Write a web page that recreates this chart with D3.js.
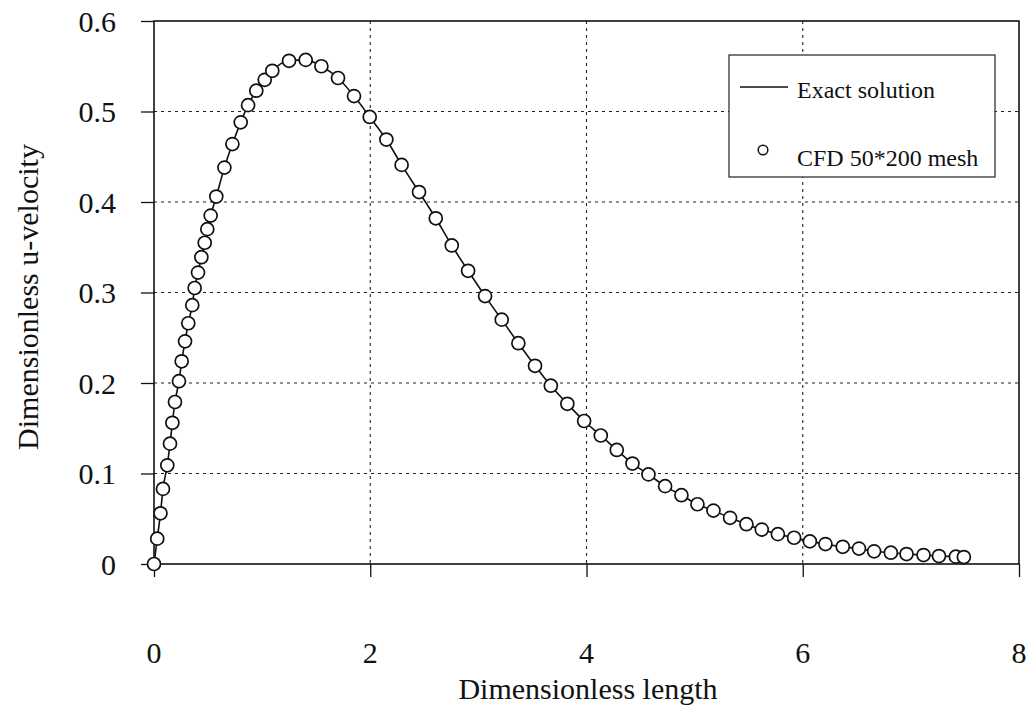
<!DOCTYPE html>
<html>
<head>
<meta charset="utf-8">
<script src="https://cdn.jsdelivr.net/npm/d3@7"></script>
<style>
  html, body { margin: 0; padding: 0; background: #fff; }
  svg { display: block; }
  text { font-family: "Liberation Serif", "DejaVu Serif", serif; fill: #111; }
</style>
</head>
<body>
<svg id="chart" width="1031" height="708"></svg>
<script>
// ---- data ----
const lengthValues = [0,0.03,0.06,0.083,0.123,0.148,0.17,0.194,0.231,0.256,0.287,0.317,0.354,0.376,0.407,0.438,0.469,0.493,0.524,0.576,0.651,0.725,0.802,0.87,0.946,1.024,1.094,1.249,1.403,1.548,1.702,1.85,1.995,2.149,2.29,2.451,2.606,2.754,2.905,3.062,3.216,3.37,3.524,3.67,3.823,3.978,4.132,4.28,4.425,4.573,4.727,4.878,5.026,5.174,5.328,5.479,5.621,5.77,5.92,6.066,6.21,6.37,6.52,6.66,6.815,6.96,7.117,7.26,7.416,7.49];
const velocityValues = [0,0.028,0.056,0.083,0.109,0.133,0.156,0.179,0.202,0.224,0.246,0.266,0.286,0.305,0.322,0.339,0.355,0.370,0.385,0.406,0.438,0.464,0.488,0.507,0.523,0.535,0.545,0.556,0.557,0.550,0.537,0.517,0.494,0.469,0.441,0.411,0.382,0.352,0.324,0.296,0.270,0.244,0.219,0.197,0.177,0.158,0.142,0.126,0.111,0.099,0.086,0.076,0.066,0.059,0.051,0.044,0.038,0.033,0.029,0.025,0.022,0.019,0.017,0.014,0.0125,0.011,0.0099,0.0088,0.0081,0.0077];
const xTicks = [0, 2, 4, 6, 8];
const yTicks = [0, 0.1, 0.2, 0.3, 0.4, 0.5, 0.6];
const xTickLabels = ["0", "2", "4", "6", "8"];
const yTickLabels = ["0", "0.1", "0.2", "0.3", "0.4", "0.5", "0.6"];
const seriesNames = ["Exact solution", "CFD 50*200 mesh"];
const xTitle = "Dimensionless length";
const yTitle = "Dimensionless u-velocity";

(function () {
  // ---- layout ----
  const svg = d3.select("#chart");
  const pL = 154, pR = 1019, pT = 21, pB = 564;
  const x = d3.scaleLinear().domain([0, 8]).range([pL, pR]);
  const y = d3.scaleLinear().domain([0, 0.6]).range([pB, pT]);

  svg.append("rect").attr("width", 1031).attr("height", 708).attr("fill", "#fff");

  // gridlines
  const grid = svg.append("g").attr("stroke", "#222").attr("stroke-width", 1.1).attr("stroke-dasharray", "3,4");
  grid.selectAll(".hg").data(yTicks.filter(v => v > 0 && v < 0.6)).join("line").attr("class", "hg")
    .attr("x1", pL).attr("x2", pR).attr("y1", d => y(d)).attr("y2", d => y(d));
  grid.selectAll(".vg").data(xTicks.filter(v => v > 0 && v < 8)).join("line").attr("class", "vg")
    .attr("y1", pT).attr("y2", pB).attr("x1", d => x(d)).attr("x2", d => x(d));

  // axes with outward ticks
  const xAxis = d3.axisBottom(x).tickValues(xTicks).tickSize(13).tickFormat("");
  const yAxis = d3.axisLeft(y).tickValues(yTicks).tickSize(13).tickFormat("");
  const gx = svg.append("g").attr("transform", `translate(0,${pB})`).call(xAxis);
  const gy = svg.append("g").attr("transform", `translate(${pL},0)`).call(yAxis);
  [gx, gy].forEach(g => {
    g.select(".domain").remove();
    g.selectAll("line").attr("stroke", "#111").attr("stroke-width", 1.3);
  });

  // frame
  svg.append("rect").attr("x", pL).attr("y", pT).attr("width", pR - pL).attr("height", pB - pT)
    .attr("fill", "none").attr("stroke", "#111").attr("stroke-width", 1.6);

  // tick labels
  svg.append("g").selectAll("text").data(xTicks).join("text")
    .attr("x", d => x(d)).attr("y", 663).attr("text-anchor", "middle")
    .attr("font-size", 30).text((d, i) => xTickLabels[i]);
  svg.append("g").selectAll("text").data(yTicks).join("text")
    .attr("x", 116).attr("y", d => y(d)).attr("dy", "0.35em").attr("text-anchor", "end")
    .attr("font-size", 30).text((d, i) => yTickLabels[i]);

  // titles
  svg.append("text").attr("x", 588).attr("y", 699).attr("text-anchor", "middle")
    .attr("font-size", 30).text(xTitle);
  svg.append("text").attr("transform", "translate(38,297) rotate(-90)").attr("text-anchor", "middle")
    .attr("font-size", 30).text(yTitle);

  // exact solution line
  const pts = lengthValues.map((v, i) => [v, velocityValues[i]]);
  const line = d3.line().x(d => x(d[0])).y(d => y(d[1])).curve(d3.curveMonotoneX);
  svg.append("path").datum(pts).attr("d", line).attr("fill", "none")
    .attr("stroke", "#111").attr("stroke-width", 1.6);

  // CFD circles
  svg.append("g").selectAll("circle").data(pts).join("circle")
    .attr("cx", d => x(d[0])).attr("cy", d => y(d[1])).attr("r", 6.5)
    .attr("fill", "#fff").attr("stroke", "#111").attr("stroke-width", 1.7);

  // legend
  const lg = svg.append("g");
  lg.append("rect").attr("x", 729).attr("y", 55).attr("width", 266).attr("height", 122)
    .attr("fill", "#fff").attr("stroke", "#222").attr("stroke-width", 1.2);
  lg.append("line").attr("x1", 740).attr("x2", 788).attr("y1", 87).attr("y2", 87)
    .attr("stroke", "#111").attr("stroke-width", 1.6);
  lg.append("text").attr("x", 797).attr("y", 98).attr("font-size", 24).text(seriesNames[0]);
  lg.append("circle").attr("cx", 763).attr("cy", 150).attr("r", 4.8)
    .attr("fill", "#fff").attr("stroke", "#111").attr("stroke-width", 1.5);
  lg.append("text").attr("x", 797).attr("y", 166).attr("font-size", 24).text(seriesNames[1]);
})();
</script>
</body>
</html>
